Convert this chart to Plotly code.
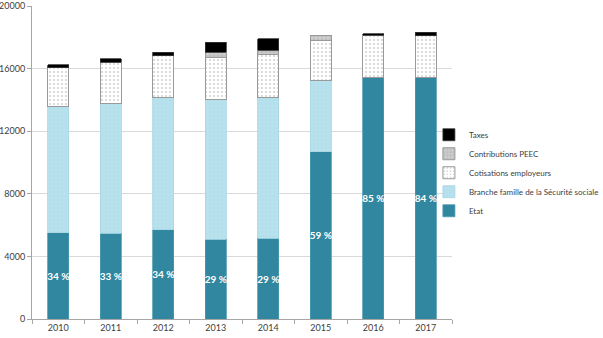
import plotly.graph_objects as go

years = ["2010", "2011", "2012", "2013", "2014", "2015", "2016", "2017"]
etat = [5520, 5480, 5700, 5100, 5150, 10700, 15400, 15450]
branche = [8080, 8320, 8480, 8930, 9010, 4520, None, None]
cotisations = [2450, 2610, 2650, 2660, 2720, 2570, 2740, 2660]
peec = [None, None, None, 360, 290, 320, None, None]
taxes = [200, 220, 210, 620, 730, None, 90, 210]
etat_labels = ["34 %", "33 %", "34 %", "29 %", "29 %", "59 %", "85 %", "84 %"]
y_ticks = [0, 4000, 8000, 12000, 16000, 20000]
y_ticktext = ["0", "4000", "8000", "12000", "16000", "20000"]

FONT = "Lato"

fig = go.Figure()
fig.add_trace(go.Bar(
    x=years, y=etat, name="Etat",
    marker=dict(color="#31879F", line=dict(color="#4A9AB0", width=0.8)),
    text=etat_labels, textposition="inside", insidetextanchor="middle",
    textfont=dict(color="white", size=10, family=FONT, weight="bold"),
    textangle=0,
))
fig.add_trace(go.Bar(
    x=years, y=branche, name="Branche famille de la Sécurité sociale",
    marker=dict(color="#B7E1EC", line=dict(color="#A8D6E3", width=0.8),
                pattern=dict(shape=".", fgcolor="#A9D5E2", bgcolor="#B7E1EC", size=4, solidity=0.15)),
))
fig.add_trace(go.Bar(
    x=years, y=cotisations, name="Cotisations employeurs",
    marker=dict(color="white", line=dict(color="#9A9A9A", width=1),
                pattern=dict(shape=".", fgcolor="#A0A0A0", bgcolor="white", size=4, solidity=0.2)),
))
fig.add_trace(go.Bar(
    x=years, y=peec, name="Contributions PEEC",
    marker=dict(color="#C8C8C8", line=dict(color="#9A9A9A", width=1),
                pattern=dict(shape="+", fgcolor="#8C8C8C", bgcolor="#D0D0D0", size=4, solidity=0.3)),
))
fig.add_trace(go.Bar(
    x=years, y=taxes, name="Taxes",
    marker=dict(color="#000000", line=dict(color="#3A3A3A", width=0.8)),
))

fig.update_layout(
    width=603, height=338,
    margin=dict(l=32, r=151, t=6, b=19, autoexpand=False),
    barmode="stack", bargap=0.6,
    plot_bgcolor="white", paper_bgcolor="white",
    font=dict(family=FONT, size=9, color="#404040"),
    showlegend=True,
    legend=dict(
        traceorder="reversed", x=0.945, xanchor="left", y=0.635, yanchor="top",
        font=dict(size=8, color="#404040", family=FONT),
        itemwidth=30, tracegroupgap=0, bgcolor="rgba(0,0,0,0)",
    ),
    xaxis=dict(
        showline=True, linecolor="#A6A6A6", linewidth=1,
        ticks="outside", ticklen=4, tickcolor="#A6A6A6",
        tickson="boundaries", showgrid=False,
        tickfont=dict(size=9, color="#404040"),
    ),
    yaxis=dict(
        range=[0, 20000], tickvals=y_ticks, ticktext=y_ticktext,
        showline=True, linecolor="#A6A6A6", linewidth=1,
        ticks="outside", ticklen=4, tickcolor="#A6A6A6",
        showgrid=True, gridcolor="#D9D9D9", gridwidth=1,
        zeroline=False,
        tickfont=dict(size=9, color="#404040"),
    ),
)
fig.update_traces(constraintext="none", selector=dict(type="bar"))

fig.write_html("out.html")
